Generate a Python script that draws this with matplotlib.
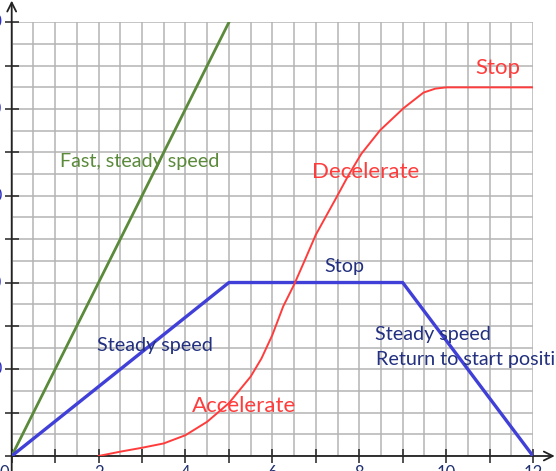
import matplotlib
matplotlib.use("Agg")
import matplotlib.pyplot as plt
from matplotlib.ticker import MultipleLocator

plt.rcParams['font.family'] = ['Lato', 'DejaVu Sans']

# Data
fast_x = [0, 5]
fast_y = [0, 10]
steady_x = [0, 5, 9, 12]
steady_y = [0, 4, 4, 0]
accel_x = [2, 2.5, 3, 3.5, 4, 4.5, 5, 5.5, 5.75, 6, 6.25, 6.5, 6.75, 7, 7.22, 7.48,
           7.75, 8.05, 8.48, 9.02, 9.48, 9.75, 10, 12]
accel_y = [0, 0.1, 0.19, 0.29, 0.48, 0.79, 1.22, 1.83, 2.25, 2.79, 3.45, 3.95, 4.52, 5.1,
           5.5, 5.97, 6.47, 6.97, 7.51, 8.02, 8.38, 8.47, 8.5, 8.5]
x_ticks = [2, 4, 6, 8, 10, 12]
x_tick_labels = ['2', '4', '6', '8', '10', '12']
y_label_ticks = [2, 4, 6, 8, 10]
y_tick_labels = ['20', '40', '60', '80', '100']

W, H = 556, 471
fig = plt.figure(figsize=(W / 100, H / 100), dpi=100)
x0, x1 = 11.7, 533.0
y0, y1 = 456.0, 22.3
ax = fig.add_axes([x0 / W, (H - y0) / H, (x1 - x0) / W, (y0 - y1) / H])
ax.set_xlim(0, 12)
ax.set_ylim(0, 10)

for s in ['top', 'right', 'left', 'bottom']:
    ax.spines[s].set_visible(False)

grid_col = '#b4b4b4'
ax.xaxis.set_minor_locator(MultipleLocator(0.5))
ax.yaxis.set_minor_locator(MultipleLocator(0.5))
ax.xaxis.set_major_locator(MultipleLocator(1))
ax.yaxis.set_major_locator(MultipleLocator(1))
ax.grid(which='both', color=grid_col, lw=1.1, zorder=0)
ax.set_axisbelow(True)

ax.tick_params(which='minor', length=0)
ax.tick_params(which='major', direction='inout', length=9.5, width=1.1, color='#222222')
ax.set_xticklabels([])
ax.set_yticklabels([])

# tick labels as text
for t, lab in zip(x_ticks, x_tick_labels):
    ax.annotate(lab, xy=(t, 0), xytext=(0, -6.8), textcoords='offset points',
                ha='center', va='top', fontsize=12, color='#1f2f6f', annotation_clip=False)
for t, lab in zip(y_label_ticks, y_tick_labels):
    ax.annotate(lab, xy=(0, t), xytext=(-7.0, 0), textcoords='offset points',
                ha='right', va='center', fontsize=12, color='#3030c0', annotation_clip=False)
ax.annotate('0', xy=(0, 0), xytext=(-2, -6.8), textcoords='offset points',
            ha='right', va='top', fontsize=12, color='#1f2f6f', annotation_clip=False)

# axes with arrows
ax.annotate('', xy=(12.5, 0), xytext=(0, 0), annotation_clip=False,
            arrowprops=dict(arrowstyle='->', color='#222222', lw=1.3,
                            mutation_scale=16, shrinkA=0, shrinkB=0))
ax.annotate('', xy=(0, 10.5), xytext=(0, -0.4), annotation_clip=False,
            arrowprops=dict(arrowstyle='->', color='#222222', lw=1.3,
                            mutation_scale=16, shrinkA=0, shrinkB=0))

green = '#5a8a3a'
blue = '#4040d8'
navy = '#22307f'
red = '#ff3c3c'

ax.plot(fast_x, fast_y, color=green, lw=2.0, zorder=3)
ax.plot(steady_x, steady_y, color=blue, lw=2.4, zorder=3)
ax.plot(accel_x, accel_y, color=red, lw=1.4, zorder=3, solid_joinstyle='round')

fs = 14.2
fr = 16
ax.text(1.11, 6.79, 'Fast, steady speed', color=green, fontsize=fs, va='center', ha='left')
ax.text(1.96, 2.55, 'Steady speed', color=navy, fontsize=fs, va='center', ha='left')
ax.text(7.2, 4.36, 'Stop', color=navy, fontsize=fs, va='center', ha='left')
ax.text(8.37, 2.8, 'Steady speed', color=navy, fontsize=fs, va='center', ha='left')
ax.text(8.39, 2.23, 'Return to start position', color=navy, fontsize=fs, va='center', ha='left',
        clip_on=False)
ax.text(4.15, 1.16, 'Accelerate', color=red, fontsize=fr, va='center', ha='left')
ax.text(6.92, 6.54, 'Decelerate', color=red, fontsize=fr, va='center', ha='left')
ax.text(10.67, 8.94, 'Stop', color=red, fontsize=fr, va='center', ha='left')

fig.savefig('out.png', dpi=100)
